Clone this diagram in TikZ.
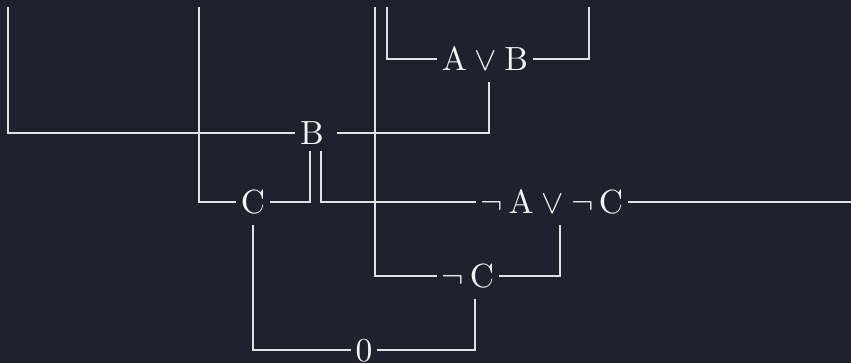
\documentclass[tikz,border=0pt]{standalone}
\definecolor{bgcol}{HTML}{1F222C}
\definecolor{wirecol}{HTML}{E2E2E2}
\definecolor{txtcol}{HTML}{F4F4F4}
\begin{document}
\begin{tikzpicture}[x=0.2985pt,y=-0.2985pt,
  lbl/.style={text=txtcol, inner xsep=1.19pt, inner ysep=3.28pt, text height=6.57pt, text depth=0pt,
    font=\normalsize},
  wire/.style={draw=wirecol, line width=0.36pt}]
\fill[bgcol] (0,0) rectangle (851,363);
\useasboundingbox (0,0) rectangle (851,363);
% nodes
\node[lbl, inner ysep=1.79pt] (B) at (312,133) {$\mathrm{B}$};
\node[lbl] (AB) at (485,59) {$\mathrm{A}\vee\mathrm{B}$};
\node[lbl] (C) at (253,202) {$\mathrm{C}$};
\node[lbl] (nAC) at (552,202) {$\neg\,\mathrm{A}\vee\neg\,\mathrm{C}$};
\node[lbl] (nC) at (468,276) {$\neg\,\mathrm{C}$};
\node[lbl] (zero) at (364,350) {$0$};
% free ends
\coordinate (tB) at (8,7);
\coordinate (tC) at (199,7);
\coordinate (tnC) at (375,7);
\coordinate (tAB1) at (387,7);
\coordinate (tAB2) at (589,7);
\coordinate (rEnd) at (851,202);
% connectors
\draw[wire] (tB) |- (B.west);
\draw[wire] ([xshift=2.39pt]B.east) -| ([xshift=1.19pt]AB.south);
\draw[wire] (tAB1) |- (AB.west);
\draw[wire] (AB.east) -| (tAB2);
\draw[wire] (tC) |- (C.west);
\draw[wire] (C.east) -| ([xshift=-0.6pt]B.south);
\draw[wire] ([xshift=2.69pt]B.south) |- (nAC.west);
\draw[wire] (nAC.east) -- (rEnd);
\draw[wire] (C.south) |- (zero.west);
\draw[wire] (zero.east) -| ([xshift=2.09pt]nC.south);
\draw[wire] (tnC) |- (nC.west);
\draw[wire] (nC.east) -| ([xshift=2.39pt]nAC.south);
\end{tikzpicture}
\end{document}
